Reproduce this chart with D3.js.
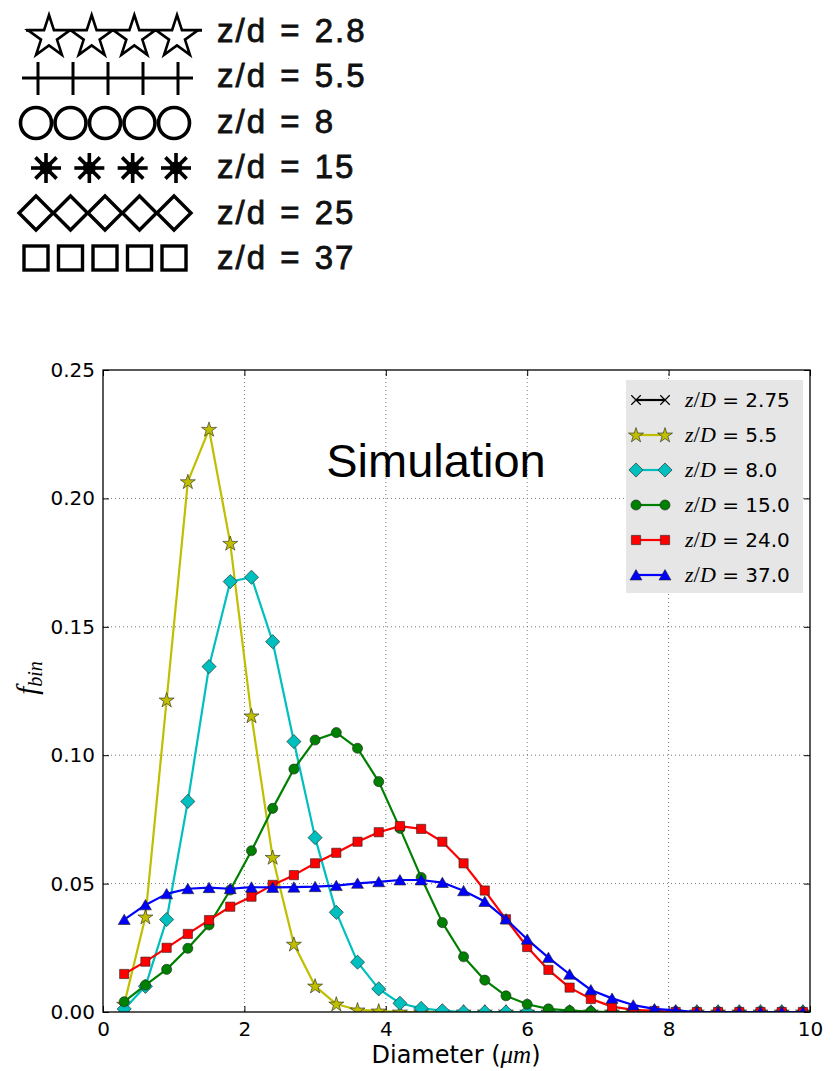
<!DOCTYPE html>
<html><head><meta charset="utf-8">
<script src="https://cdn.jsdelivr.net/npm/d3@7"></script>
<style>body{margin:0;background:#fff}svg{display:block}</style>
</head><body>
<svg id="c" width="834" height="1071"></svg>
<script>
// ---------- DATA ----------
const topLegendLabels = ["z/d = 2.8", "z/d = 5.5", "z/d = 8", "z/d = 15", "z/d = 25", "z/d = 37"];
const topLegendSymbols = ["star", "cross", "circle", "asterisk", "diamond", "square"];
const topLegendCounts = [4, 5, 5, 4, 5, 5];

const diameters = [0.3,0.6,0.9,1.2,1.5,1.8,2.1,2.4,2.7,3.0,3.3,3.6,3.9,4.2,4.5,4.8,5.1,5.4,5.7,6.0,6.3,6.6,6.9,7.2,7.5,7.8,8.1,8.4,8.7,9.0,9.3,9.6,9.9];

const zD275 = [];
const zD55 = [0.003,0.037,0.1215,0.2065,0.2269,0.1825,0.1153,0.0602,0.0264,0.0101,0.0031,0.0008,0.0004,0,0,0,0,0,0,0,0,0,0,0,0,0,0,0,0,0,0,0,0];
const zD80 = [0.0012,0.010,0.036,0.082,0.1345,0.1676,0.1693,0.1442,0.1053,0.0679,0.0388,0.0194,0.009,0.0034,0.0014,0.0005,0,0,0,0,0,0,0,0,0,0,0,0,0,0,0,0,0];
const zD150 = [0.004,0.0105,0.0166,0.0248,0.0339,0.0475,0.0628,0.0793,0.0946,0.1059,0.1088,0.1027,0.0897,0.0715,0.0524,0.0348,0.0215,0.0124,0.0063,0.003,0.0012,0.0005,0.0002,0,0,0,0,0,0,0,0,0,0];
const zD240 = [0.0148,0.0196,0.025,0.0304,0.0358,0.041,0.0449,0.0495,0.0533,0.0579,0.062,0.0663,0.07,0.0724,0.0713,0.0663,0.0579,0.0473,0.0361,0.0253,0.0164,0.0095,0.0051,0.0021,0.0008,0.0004,0,0,0,0,0,0,0];
const zD370 = [0.036,0.0417,0.046,0.048,0.0484,0.048,0.0486,0.0485,0.0486,0.0488,0.0492,0.0501,0.0507,0.0514,0.0514,0.0504,0.0472,0.043,0.0362,0.0283,0.0212,0.0147,0.0086,0.0053,0.0027,0.0012,0.0006,0,0,0,0,0,0];

const seriesNames = ["2.75", "5.5", "8.0", "15.0", "24.0", "37.0"];
const seriesValues = [zD275, zD55, zD80, zD150, zD240, zD370];
const seriesColors = ["#000000", "#bfbf00", "#00bfbf", "#008000", "#ff0000", "#0000ff"];
const seriesMarkers = ["x", "star", "diamond", "circle", "square", "triangle"];

const xTicks = [0, 2, 4, 6, 8, 10];
const yTicks = [0.00, 0.05, 0.10, 0.15, 0.20, 0.25];

// ---------- LAYOUT ----------
const svg = d3.select("#c");
const L = 103, R = 810, T = 370, B = 1012;
const x = d3.scaleLinear().domain([0, 10]).range([L, R]);
const y = d3.scaleLinear().domain([0, 0.25]).range([B, T]);

// ---------- top scanned-style legend ----------
const tl = svg.append("g");
const rowY = d3.scaleLinear().domain([0, 5]).range([33, 258]);
const textY = d3.scaleLinear().domain([0, 5]).range([42, 269]);
const SW = 3;
topLegendLabels.forEach((lab, i) => {
  const cy = rowY(i);
  const n = topLegendCounts[i];
  const sym = topLegendSymbols[i];
  const g = tl.append("g");
  let x0 = 36, x1 = 174;
  if (sym === "star") { x0 = 49; x1 = 177; }
  if (sym === "asterisk") { x0 = 46; x1 = 176; }
  if (sym === "cross") { x0 = 38; x1 = 178; }
  const px = d3.scaleLinear().domain([0, n - 1]).range([x0, x1]);
  const starR = 22;
  const starY = cy + 4;
  if (sym === "star") {
    const ly = starY - 0.309 * starR;
    g.append("line").attr("x1", 26).attr("x2", 202).attr("y1", ly).attr("y2", ly)
      .attr("stroke", "#000").attr("stroke-width", SW);
  }
  if (sym === "cross") {
    g.append("line").attr("x1", 22).attr("x2", 193).attr("y1", cy).attr("y2", cy)
      .attr("stroke", "#000").attr("stroke-width", SW);
  }
  for (let k = 0; k < n; k++) {
    const cx = px(k);
    if (sym === "star") {
      g.append("path").attr("d", d3.symbol(d3.symbolStar, starR * starR / 0.8908)()).attr("transform", `translate(${cx},${starY})`)
        .attr("fill", "#fff").attr("stroke", "#000").attr("stroke-width", 2.6).attr("stroke-linejoin", "miter");
    } else if (sym === "cross") {
      g.append("line").attr("x1", cx).attr("x2", cx).attr("y1", cy - 16).attr("y2", cy + 17)
        .attr("stroke", "#000").attr("stroke-width", SW);
    } else if (sym === "circle") {
      g.append("circle").attr("cx", cx).attr("cy", cy).attr("r", 15.5).attr("fill", "none")
        .attr("stroke", "#000").attr("stroke-width", 3.6);
    } else if (sym === "asterisk") {
      for (let a = 0; a < 4; a++) {
        const ang = a * Math.PI / 4;
        g.append("line").attr("x1", cx - 15 * Math.cos(ang)).attr("x2", cx + 15 * Math.cos(ang))
          .attr("y1", cy - 15 * Math.sin(ang)).attr("y2", cy + 15 * Math.sin(ang))
          .attr("stroke", "#000").attr("stroke-width", 3.6);
      }
      g.append("circle").attr("cx", cx).attr("cy", cy).attr("r", 6.5).attr("fill", "#000");
    } else if (sym === "diamond") {
      g.append("path").attr("d", `M${cx - 17},${cy}L${cx},${cy - 17}L${cx + 17},${cy}L${cx},${cy + 17}Z`)
        .attr("fill", "none").attr("stroke", "#000").attr("stroke-width", 3.4);
    } else if (sym === "square") {
      g.append("rect").attr("x", cx - 12).attr("y", cy - 12).attr("width", 24).attr("height", 24)
        .attr("fill", "none").attr("stroke", "#000").attr("stroke-width", 3.4);
    }
  }
  tl.append("text").attr("x", 217).attr("y", textY(i)).text(lab)
    .attr("font-family", "Liberation Sans, Arial, sans-serif").attr("font-size", 33)
    .attr("letter-spacing", 2).attr("word-spacing", 2)
    .attr("fill", "#111").attr("stroke", "#111").attr("stroke-width", 0.8);
});

// ---------- axes / grid ----------
svg.append("clipPath").attr("id", "clip").append("rect")
  .attr("x", L).attr("y", T).attr("width", R - L).attr("height", B - T);

const grid = svg.append("g");
grid.selectAll(".gx").data(xTicks.slice(1, -1)).join("line")
  .attr("x1", d => x(d)).attr("x2", d => x(d)).attr("y1", T).attr("y2", B)
  .attr("stroke", "#777").attr("stroke-width", 1).attr("stroke-dasharray", "1,3");
grid.selectAll(".gy").data(yTicks.slice(1, -1)).join("line")
  .attr("x1", L).attr("x2", R).attr("y1", d => y(d)).attr("y2", d => y(d))
  .attr("stroke", "#777").attr("stroke-width", 1).attr("stroke-dasharray", "1,3");

const tickFont = "DejaVu Sans, sans-serif";
const xAxisB = d3.axisBottom(x).tickValues(xTicks).tickSize(-6).tickPadding(10).tickFormat(d3.format("d"));
const xAxisT = d3.axisTop(x).tickValues(xTicks).tickSize(-6).tickFormat("");
const yAxisL = d3.axisLeft(y).tickValues(yTicks).tickSize(-6).tickPadding(8).tickFormat(d3.format(".2f"));
const yAxisR = d3.axisRight(y).tickValues(yTicks).tickSize(-6).tickFormat("");
function styleAxis(g) {
  g.select(".domain").remove();
  g.selectAll(".tick line").attr("stroke", "#000").attr("stroke-width", 1);
  g.selectAll("text").attr("font-family", tickFont).attr("font-size", 20).attr("fill", "#000");
}
svg.append("g").attr("transform", `translate(0,${B})`).call(xAxisB).call(styleAxis);
svg.append("g").attr("transform", `translate(0,${T})`).call(xAxisT).call(styleAxis);
svg.append("g").attr("transform", `translate(${L},0)`).call(yAxisL).call(styleAxis);
svg.append("g").attr("transform", `translate(${R},0)`).call(yAxisR).call(styleAxis);

// ---------- series ----------
const plot = svg.append("g").attr("clip-path", "url(#clip)");
const line = d3.line().x((d, i) => x(diameters[i])).y(d => y(d));
const symMap = { star: d3.symbolStar, circle: d3.symbolCircle, square: d3.symbolSquare, triangle: d3.symbolTriangle };
const mSize = { star: 70, diamond: 100, circle: 80, square: 85, triangle: 62 };
function markerD(m) {
  if (m === "diamond") return d3.symbol(d3.symbolSquare, mSize.diamond)();
  return d3.symbol(symMap[m], mSize[m])();
}
function markerT(m) {
  return (m === "diamond" ? " rotate(45)" : "") + (m === "triangle" ? " translate(0,1.5)" : "") + (m === "star" ? " translate(0,0.5)" : "");
}
seriesValues.forEach((vals, s) => {
  if (!vals.length) return;
  plot.append("path").datum(vals).attr("d", line).attr("fill", "none")
    .attr("stroke", seriesColors[s]).attr("stroke-width", 2.2).attr("stroke-linejoin", "round");
  const m = seriesMarkers[s];
  plot.selectAll(null).data(vals).join("path")
    .attr("d", markerD(m))
    .attr("transform", (d, i) => `translate(${x(diameters[i])},${y(d)})` + markerT(m))
    .attr("fill", seriesColors[s]).attr("stroke", "#222").attr("stroke-width", 0.6);
});

// frame
svg.append("rect").attr("x", L).attr("y", T).attr("width", R - L).attr("height", B - T)
  .attr("fill", "none").attr("stroke", "#000").attr("stroke-width", 1.3);

// ---------- in-plot legend ----------
const lg = svg.append("g");
lg.append("rect").attr("x", 626).attr("y", 380).attr("width", 177).attr("height", 213).attr("fill", "#e6e6e6");
const ly = d3.scaleLinear().domain([0, 5]).range([400, 575]);
seriesNames.forEach((nm, s) => {
  const cy = ly(s);
  lg.append("line").attr("x1", 636).attr("x2", 665).attr("y1", cy).attr("y2", cy)
    .attr("stroke", seriesColors[s]).attr("stroke-width", 2.2);
  const m = seriesMarkers[s];
  [636, 665].forEach(cx => {
    if (m === "x") {
      lg.append("path").attr("d", d3.symbol(d3.symbolX, 60)()).attr("transform", `translate(${cx},${cy})`)
        .attr("fill", "none").attr("stroke", "#000").attr("stroke-width", 1.2);
    } else {
      lg.append("path").attr("d", markerD(m))
        .attr("transform", `translate(${cx},${cy})` + markerT(m))
        .attr("fill", seriesColors[s]).attr("stroke", "#222").attr("stroke-width", 0.6);
    }
  });
  const t = lg.append("text").attr("x", 685).attr("y", cy + 7).attr("fill", "#000");
  t.append("tspan").attr("font-family", "Liberation Serif, serif").attr("font-style", "italic").attr("font-size", 22).text("z");
  t.append("tspan").attr("font-family", "Liberation Serif, serif").attr("font-size", 23).text("/");
  t.append("tspan").attr("font-family", "Liberation Serif, serif").attr("font-style", "italic").attr("font-size", 22).text("D");
  t.append("tspan").attr("font-family", "DejaVu Sans, sans-serif").attr("font-size", 20).text(" = " + nm);
});

// ---------- titles ----------
svg.append("text").attr("x", 436).attr("y", 477).attr("text-anchor", "middle")
  .attr("font-family", "Liberation Sans, Arial, sans-serif").attr("font-size", 47).text("Simulation");

const xl = svg.append("text").attr("x", 456).attr("y", 1063).attr("text-anchor", "middle")
  .attr("font-family", "DejaVu Sans, sans-serif").attr("font-size", 24);
xl.append("tspan").text("Diameter (");
xl.append("tspan").attr("font-family", "Liberation Serif, serif").attr("font-style", "italic").attr("font-size", 25).text("μm");
xl.append("tspan").text(")");

const yl = svg.append("text").attr("transform", "translate(37,678) rotate(-90)").attr("text-anchor", "middle")
  .attr("font-family", "Liberation Serif, serif").attr("font-style", "italic");
yl.append("tspan").attr("font-size", 29).text("f");
yl.append("tspan").attr("font-size", 20).attr("dy", 5).text("bin");
</script>
</body></html>
